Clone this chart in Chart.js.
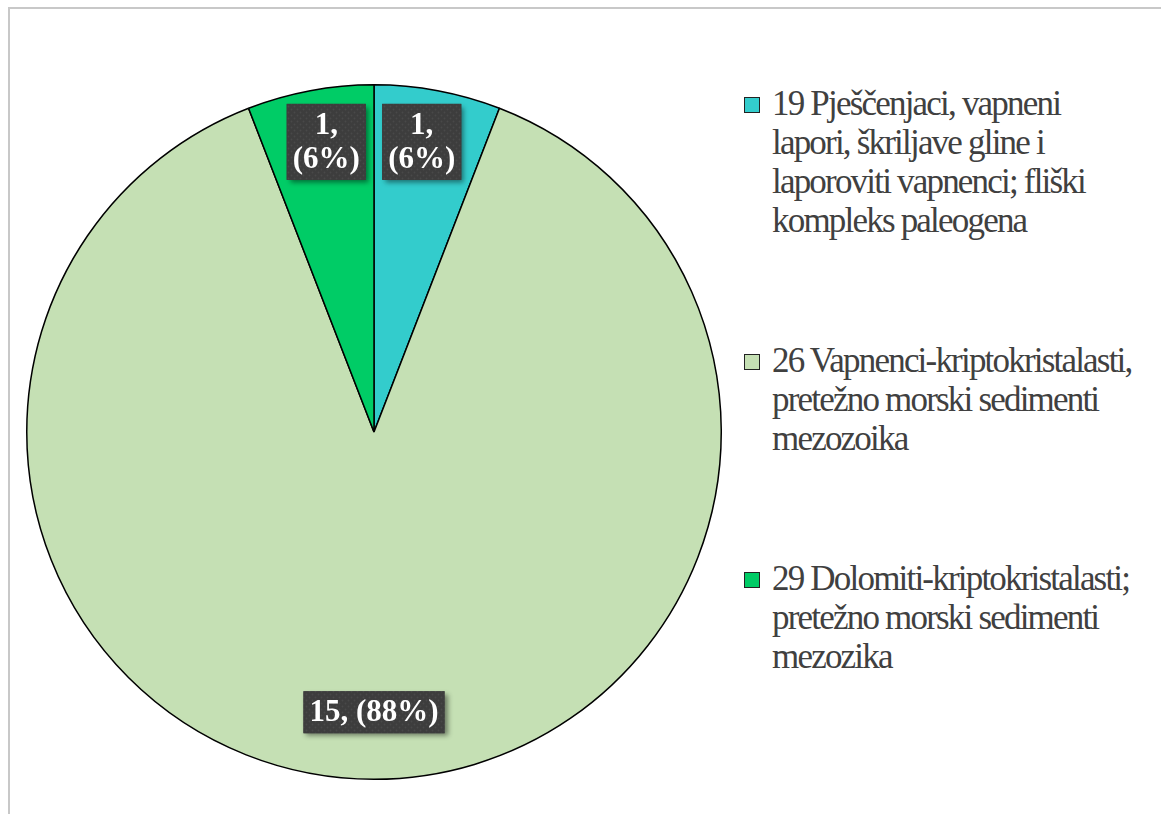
<!DOCTYPE html>
<html>
<head>
<meta charset="utf-8">
<script src="https://cdn.jsdelivr.net/npm/chart.js@4.4.1/dist/chart.umd.min.js"></script>
<style>
  html, body { margin: 0; padding: 0; background: #fff; }
  body { width: 1161px; height: 814px; position: relative; overflow: hidden; }
  #frame {
    position: absolute; left: 8px; top: 7px; width: 1200px; height: 805px;
    border-left: 2px solid #c8c8c8; border-top: 2px solid #c8c8c8;
  }
  #pieBox { position: absolute; left: 26px; top: 84px; width: 696px; height: 696px; }
  #legend {
    position: absolute; left: 743px; top: 84px; width: 418px;
    font-family: "Liberation Serif", "Times New Roman", serif;
    font-size: 35px; color: #404040; letter-spacing: -1.8px; line-height: 39px;
    white-space: nowrap;
  }
  .item { position: relative; padding-left: 29px; margin-bottom: 101px; }
  .item .box {
    position: absolute; left: 1px; top: 13px; width: 14px; height: 14px;
    border: 1.5px solid #222;
  }
</style>
</head>
<body>
<div id="frame"></div>
<div id="pieBox"><canvas id="pieChart"></canvas></div>
<div id="legend"></div>

<script>
// data
const labels = [
  ["19 Pješčenjaci, vapneni", "lapori, škriljave gline i", "laporoviti vapnenci; fliški", "kompleks paleogena"],
  ["26 Vapnenci-kriptokristalasti,", "pretežno morski sedimenti", "mezozoika"],
  ["29 Dolomiti-kriptokristalasti;", "pretežno morski sedimenti", "mezozika"]
];
const counts = [1, 15, 1];
const sliceColors = ["#33CCCC", "#C5E0B4", "#00CC66"];

const LABEL_FONT = "bold 31px 'Liberation Serif', 'Times New Roman', serif";

// html legend
const legendEl = document.getElementById("legend");
labels.forEach((lines, i) => {
  const item = document.createElement("div");
  item.className = "item";
  item.innerHTML = `<span class="box" style="background:${sliceColors[i]}"></span>` + lines.join("<br>");
  legendEl.appendChild(item);
});

// dotted dark texture for the label boxes
function makeTexture(ctx) {
  const c = document.createElement("canvas");
  c.width = 6; c.height = 6;
  const g = c.getContext("2d");
  g.fillStyle = "#3d3d3d";
  g.fillRect(0, 0, 6, 6);
  g.fillStyle = "#494949";
  g.beginPath(); g.arc(1.5, 1.5, 1, 0, Math.PI * 2); g.fill();
  g.beginPath(); g.arc(4.5, 4.5, 1, 0, Math.PI * 2); g.fill();
  return ctx.createPattern(c, "repeat");
}

const sliceLabels = {
  id: "sliceLabels",
  afterDatasetsDraw(chart) {
    const ctx = chart.ctx;
    const meta = chart.getDatasetMeta(0);
    const data = chart.data.datasets[0].data;
    const total = data.reduce((a, b) => a + b, 0);
    const pattern = makeTexture(ctx);
    ctx.save();
    ctx.font = LABEL_FONT;
    meta.data.forEach((arc, i) => {
      const p = arc.getProps(["x", "y", "startAngle", "endAngle", "outerRadius"], true);
      const mid = (p.startAngle + p.endAngle) / 2;
      const pct = Math.round(data[i] / total * 100);
      // narrow slices get the label wrapped onto two lines
      const lines = pct < 20 ? [data[i] + ",", "(" + pct + "%)"] : [data[i] + ", (" + pct + "%)"];
      const r = p.outerRadius * (lines.length > 1 ? 0.85 : 0.807);
      const cx = p.x + Math.cos(mid) * r * (lines.length > 1 ? 0.88 : 1);
      const cy = p.y + Math.sin(mid) * r;
      const lh = 34;
      const w = Math.max(...lines.map(l => ctx.measureText(l).width)) + 12;
      const h = lines.length * lh + 8;
      const bx = cx - w / 2, by = cy - h / 2;
      ctx.save();
      ctx.shadowColor = "rgba(0,0,0,0.45)";
      ctx.shadowBlur = 5;
      ctx.shadowOffsetX = 3;
      ctx.shadowOffsetY = 3;
      ctx.fillStyle = "#404040";
      ctx.fillRect(bx, by, w, h);
      ctx.restore();
      ctx.fillStyle = pattern;
      ctx.fillRect(bx, by, w, h);
      ctx.fillStyle = "#ffffff";
      ctx.textAlign = "center";
      ctx.textBaseline = "middle";
      lines.forEach((l, k) => {
        ctx.fillText(l, cx, by + 4 + lh * k + lh / 2 + 1);
      });
    });
    ctx.restore();
  }
};

function draw() {
  new Chart(document.getElementById("pieChart"), {
    type: "pie",
    data: {
      labels: labels,
      datasets: [{
        data: counts,
        backgroundColor: sliceColors,
        borderColor: "#000000",
        borderWidth: 1.5
      }]
    },
    options: {
      responsive: true,
      maintainAspectRatio: false,
      animation: false,
      layout: { padding: 0 },
      plugins: {
        legend: { display: false },
        tooltip: { enabled: false }
      }
    },
    plugins: [sliceLabels]
  });
}

document.fonts.load(LABEL_FONT).then(draw, draw);
</script>
</body>
</html>
